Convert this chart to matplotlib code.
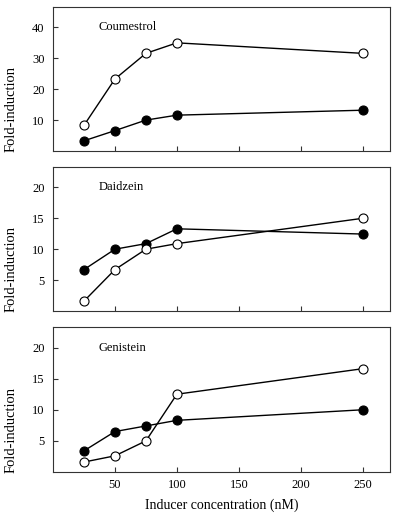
import matplotlib
matplotlib.use("Agg")
import matplotlib.pyplot as plt

plt.rcParams['font.family'] = ['Liberation Serif', 'DejaVu Serif']

conc = [25, 50, 75, 100, 250]
panels = ["Coumestrol", "Daidzein", "Genistein"]
open_vals = [
    [8.3, 23.3, 31.6, 35.0, 31.6],
    [1.6, 6.7, 10.0, 10.9, 15.0],
    [1.6, 2.6, 5.0, 12.5, 16.6],
]
filled_vals = [
    [3.3, 6.6, 10.0, 11.6, 13.2],
    [6.7, 10.0, 10.9, 13.3, 12.45],
    [3.4, 6.5, 7.4, 8.3, 10.0],
]
yticks = [[10, 20, 30, 40], [5, 10, 15, 20], [5, 10, 15, 20]]
ylims = [46.6, 23.3, 23.3]
xticks = [50, 100, 150, 200, 250]

W, H = 400, 514
fig = plt.figure(figsize=(W / 100, H / 100), dpi=100)
boxes = [(7, 151), (167, 311), (327, 472)]
left, right = 53, 390
for i, (top, bot) in enumerate(boxes):
    ax = fig.add_axes([left / W, 1 - bot / H, (right - left) / W, (bot - top) / H])
    ax.plot(conc, filled_vals[i], '-o', color='black', lw=1.0, ms=6.5,
            mfc='black', mec='black', mew=0.8, zorder=3)
    ax.plot(conc, open_vals[i], '-o', color='black', lw=1.0, ms=6.5,
            mfc='white', mec='black', mew=0.8, zorder=3)
    ax.set_xlim(0, 272)
    ax.set_ylim(0, ylims[i])
    ax.set_xticks(xticks)
    ax.set_yticks(yticks[i])
    ax.tick_params(direction='in', length=3.5, width=0.8, labelsize=9, color='#333333')
    ax.tick_params(axis='y', pad=6)
    ax.tick_params(axis='x', pad=5)
    if i < 2:
        ax.set_xticklabels([])
    else:
        ax.set_xlabel("Inducer concentration (nM)", fontsize=10)
        ax.xaxis.set_label_coords(0.5, -0.185)
    ax.set_ylabel("Fold-induction", fontsize=10.5, ha='left')
    ax.yaxis.set_label_coords(-0.104, -0.005)
    for s in ax.spines.values():
        s.set_linewidth(0.8)
        s.set_color('#333333')
    ax.text(37, yticks[i][-1], panels[i], fontsize=9, va='center', ha='left')

fig.savefig("out.png", dpi=100)
